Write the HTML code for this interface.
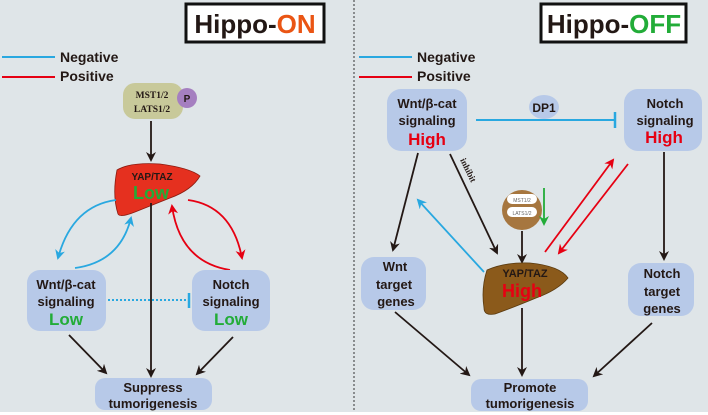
<!DOCTYPE html>
<html><head><meta charset="utf-8"><style>
html,body{margin:0;padding:0;background:#fff}
svg{display:block}
text{font-family:"Liberation Sans",sans-serif;font-weight:bold}
</style></head><body>
<svg width="708" height="415" viewBox="0 0 708 415" xmlns="http://www.w3.org/2000/svg">
<defs>
<marker id="ak" markerWidth="10" markerHeight="10" refX="8" refY="5" orient="auto" markerUnits="userSpaceOnUse"><path d="M0,0 L10,5 L0,10 L3,5z" fill="#231815"/></marker>
<marker id="ab" markerWidth="10" markerHeight="10" refX="8" refY="5" orient="auto" markerUnits="userSpaceOnUse"><path d="M0,0 L10,5 L0,10 L3,5z" fill="#29a8e0"/></marker>
<marker id="ar" markerWidth="10" markerHeight="10" refX="8" refY="5" orient="auto" markerUnits="userSpaceOnUse"><path d="M0,0 L10,5 L0,10 L3,5z" fill="#e60012"/></marker>
<marker id="ag" markerWidth="10" markerHeight="10" refX="8" refY="5" orient="auto" markerUnits="userSpaceOnUse"><path d="M0,0 L10,5 L0,10 L3,5z" fill="#22ac38"/></marker>
</defs>
<rect x="0" y="0" width="708" height="412" fill="#dfe5e8"/>
<line x1="354" y1="0" x2="354" y2="412" stroke="#333" stroke-width="1" stroke-dasharray="2,2"/>

<!-- LEFT -->
<rect x="186" y="4" width="138" height="38" fill="#fff" stroke="#111" stroke-width="3"/>
<text x="255" y="33" font-size="26" text-anchor="middle" fill="#231815">Hippo-<tspan fill="#ea5514">ON</tspan></text>
<line x1="2" y1="57" x2="55" y2="57" stroke="#29a8e0" stroke-width="2"/>
<text x="60" y="62" font-size="14" fill="#231815">Negative</text>
<line x1="2" y1="77" x2="55" y2="77" stroke="#e60012" stroke-width="2"/>
<text x="60" y="81" font-size="14" fill="#231815">Positive</text>
<rect x="123" y="83" width="60" height="36" rx="12" fill="#c8c99a"/>
<text x="152" y="98" font-size="9.5" text-anchor="middle" fill="#231815" style="font-family:'Liberation Serif',serif">MST1/2</text>
<text x="152" y="112" font-size="9.5" text-anchor="middle" fill="#231815" style="font-family:'Liberation Serif',serif">LATS1/2</text>
<circle cx="187" cy="98" r="10" fill="#a57fc0"/>
<text x="187" y="102" font-size="10" text-anchor="middle" fill="#231815">P</text>
<line x1="151" y1="121" x2="151" y2="160" stroke="#231815" stroke-width="1.8" marker-end="url(#ak)"/>
<path d="M117,170 Q130,162 160,164 Q190,168 200,176 Q192,190 170,198 Q150,206 135,212 Q120,218 118,214 Q112,195 117,170z" fill="#e5301f" stroke="#8a1b10" stroke-width="0.8"/>
<text x="152" y="180" font-size="10" text-anchor="middle" fill="#231815">YAP/TAZ</text>
<text x="151" y="199" font-size="18" text-anchor="middle" fill="#22ac38">Low</text>
<line x1="151" y1="203" x2="151" y2="376" stroke="#231815" stroke-width="1.8" marker-end="url(#ak)"/>
<path d="M116,200 Q72,206 58,258" fill="none" stroke="#29a8e0" stroke-width="1.8" marker-end="url(#ab)"/>
<path d="M75,268 Q120,262 131,218" fill="none" stroke="#29a8e0" stroke-width="1.8" marker-end="url(#ab)"/>
<path d="M188,200 Q232,206 242,258" fill="none" stroke="#e60012" stroke-width="1.8" marker-end="url(#ar)"/>
<path d="M230,270 Q180,262 172,206" fill="none" stroke="#e60012" stroke-width="1.8" marker-end="url(#ar)"/>
<rect x="27" y="270" width="79" height="61" rx="13" fill="#b7c9e8"/>
<text x="66" y="289" font-size="13" text-anchor="middle" fill="#231815">Wnt/β-cat</text>
<text x="66" y="306" font-size="13" text-anchor="middle" fill="#231815">signaling</text>
<text x="66" y="325" font-size="17" text-anchor="middle" fill="#22ac38">Low</text>
<rect x="192" y="270" width="78" height="61" rx="13" fill="#b7c9e8"/>
<text x="231" y="289" font-size="13" text-anchor="middle" fill="#231815">Notch</text>
<text x="231" y="306" font-size="13" text-anchor="middle" fill="#231815">signaling</text>
<text x="231" y="325" font-size="17" text-anchor="middle" fill="#22ac38">Low</text>
<line x1="108" y1="300" x2="188" y2="300" stroke="#29a8e0" stroke-width="2" stroke-dasharray="2,2"/>
<line x1="189" y1="293" x2="189" y2="308" stroke="#29a8e0" stroke-width="2.5"/>
<rect x="95" y="378" width="117" height="32" rx="10" fill="#b7c9e8"/>
<text x="153" y="392" font-size="13" text-anchor="middle" fill="#231815">Suppress</text>
<text x="153" y="408" font-size="13" text-anchor="middle" fill="#231815">tumorigenesis</text>
<line x1="69" y1="335" x2="106" y2="373" stroke="#231815" stroke-width="1.8" marker-end="url(#ak)"/>
<line x1="233" y1="337" x2="197" y2="374" stroke="#231815" stroke-width="1.8" marker-end="url(#ak)"/>

<!-- RIGHT -->
<rect x="541" y="4" width="145" height="38" fill="#fff" stroke="#111" stroke-width="3"/>
<text x="614" y="33" font-size="26" text-anchor="middle" fill="#231815">Hippo-<tspan fill="#22ac38">OFF</tspan></text>
<line x1="359" y1="57" x2="412" y2="57" stroke="#29a8e0" stroke-width="2"/>
<text x="417" y="62" font-size="14" fill="#231815">Negative</text>
<line x1="359" y1="77" x2="412" y2="77" stroke="#e60012" stroke-width="2"/>
<text x="417" y="81" font-size="14" fill="#231815">Positive</text>
<rect x="387" y="89" width="80" height="62" rx="14" fill="#b7c9e8"/>
<text x="427" y="108" font-size="13" text-anchor="middle" fill="#231815">Wnt/β-cat</text>
<text x="427" y="125" font-size="13" text-anchor="middle" fill="#231815">signaling</text>
<text x="427" y="145" font-size="17" text-anchor="middle" fill="#e60012">High</text>
<rect x="624" y="89" width="78" height="62" rx="14" fill="#b7c9e8"/>
<text x="665" y="108" font-size="13" text-anchor="middle" fill="#231815">Notch</text>
<text x="665" y="125" font-size="13" text-anchor="middle" fill="#231815">signaling</text>
<text x="664" y="143" font-size="17" text-anchor="middle" fill="#e60012">High</text>
<ellipse cx="544" cy="107" rx="15" ry="12" fill="#b7c9e8"/>
<text x="544" y="112" font-size="12" text-anchor="middle" fill="#231815">DP1</text>
<line x1="476" y1="120" x2="614" y2="120" stroke="#29a8e0" stroke-width="2"/>
<line x1="615" y1="112" x2="615" y2="128" stroke="#29a8e0" stroke-width="2.5"/>
<line x1="418" y1="153" x2="393" y2="250" stroke="#231815" stroke-width="1.8" marker-end="url(#ak)"/>
<line x1="450" y1="154" x2="497" y2="253" stroke="#231815" stroke-width="1.8" marker-end="url(#ak)"/>
<text x="0" y="0" font-size="9" fill="#231815" transform="translate(460,160) rotate(64)" style="font-family:'Liberation Serif',serif">inhibit</text>
<circle cx="522" cy="210" r="20" fill="#a6763f"/>
<rect x="507" y="194" width="30" height="10" rx="5" fill="#fff"/>
<rect x="507" y="207" width="30" height="10" rx="5" fill="#fff"/>
<text x="522" y="202" font-size="5" text-anchor="middle" fill="#666" style="font-weight:normal">MST1/2</text>
<text x="522" y="215" font-size="5" text-anchor="middle" fill="#666" style="font-weight:normal">LATS1/2</text>
<line x1="544" y1="188" x2="544" y2="224" stroke="#22ac38" stroke-width="1.8" marker-end="url(#ag)"/>
<line x1="522" y1="231" x2="522" y2="262" stroke="#231815" stroke-width="1.8" marker-end="url(#ak)"/>
<line x1="484" y1="272" x2="418" y2="200" stroke="#29a8e0" stroke-width="1.8" marker-end="url(#ab)"/>
<line x1="545" y1="252" x2="613" y2="160" stroke="#e60012" stroke-width="1.8" marker-end="url(#ar)"/>
<line x1="628" y1="164" x2="559" y2="253" stroke="#e60012" stroke-width="1.8" marker-end="url(#ar)"/>
<path d="M487,270 Q505,262 530,263 Q560,266 568,278 Q558,290 536,298 Q512,308 495,314 Q484,316 484,308 Q481,288 487,270z" fill="#8b5a1b" stroke="#5a3a0f" stroke-width="0.8"/>
<text x="525" y="277" font-size="11" text-anchor="middle" fill="#231815">YAP/TAZ</text>
<text x="522" y="297" font-size="18" text-anchor="middle" fill="#e60012">High</text>
<rect x="361" y="257" width="65" height="53" rx="13" fill="#b7c9e8"/>
<text x="395" y="271" font-size="13" text-anchor="middle" fill="#231815">Wnt</text>
<text x="394" y="289" font-size="13" text-anchor="middle" fill="#231815">target</text>
<text x="396" y="306" font-size="13" text-anchor="middle" fill="#231815">genes</text>
<rect x="628" y="263" width="66" height="53" rx="13" fill="#b7c9e8"/>
<text x="662" y="278" font-size="13" text-anchor="middle" fill="#231815">Notch</text>
<text x="662" y="296" font-size="13" text-anchor="middle" fill="#231815">target</text>
<text x="662" y="313" font-size="13" text-anchor="middle" fill="#231815">genes</text>
<line x1="664" y1="152" x2="664" y2="259" stroke="#231815" stroke-width="1.8" marker-end="url(#ak)"/>
<line x1="522" y1="308" x2="522" y2="375" stroke="#231815" stroke-width="1.8" marker-end="url(#ak)"/>
<line x1="395" y1="312" x2="469" y2="375" stroke="#231815" stroke-width="1.8" marker-end="url(#ak)"/>
<line x1="652" y1="323" x2="594" y2="376" stroke="#231815" stroke-width="1.8" marker-end="url(#ak)"/>
<rect x="471" y="379" width="117" height="32" rx="10" fill="#b7c9e8"/>
<text x="530" y="392" font-size="13" text-anchor="middle" fill="#231815">Promote</text>
<text x="530" y="408" font-size="13" text-anchor="middle" fill="#231815">tumorigenesis</text>
</svg>
</body></html>
